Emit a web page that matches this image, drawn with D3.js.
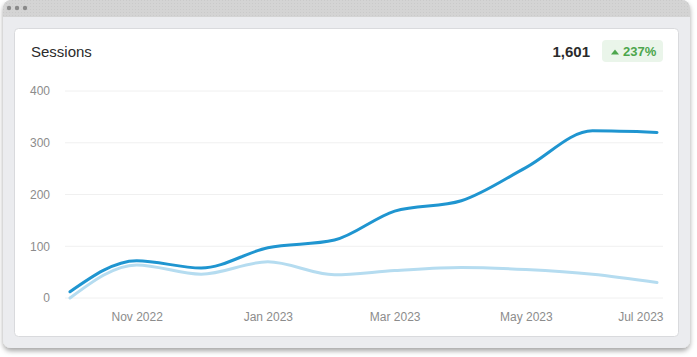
<!DOCTYPE html>
<html><head><meta charset="utf-8">
<script src="https://cdn.jsdelivr.net/npm/d3@7"></script>
<style>
html,body{margin:0;padding:0;background:#fff;}
svg{display:block;font-family:"Liberation Sans",Arial,Helvetica,sans-serif;}
</style></head>
<body>
<svg id="c" width="697" height="357"></svg>
<script>
const months = ["2022-10-01","2022-11-01","2022-12-01","2023-01-01","2023-02-01","2023-03-01","2023-04-01","2023-05-01","2023-06-01","2023-07-01"];
const currentSessions = [12, 72, 58, 97, 112, 168, 188, 252, 323, 320];
const previousSessions = [0, 64, 46, 70, 45, 53, 59, 55, 46, 30];
const yTicks = [0, 100, 200, 300, 400];
const xTickDates = ["2022-11-01","2023-01-01","2023-03-01","2023-05-01","2023-07-01"];
const title = "Sessions";
const total = "1,601";
const change = "237%";

const parse = d3.timeParse("%Y-%m-%d");
const dates = months.map(parse);
const svg = d3.select("#c");

// drop shadow
const defs = svg.append("defs");
const f = defs.append("filter").attr("id","sh").attr("x","-5%").attr("y","-5%").attr("width","110%").attr("height","115%");
f.append("feDropShadow").attr("dx",0).attr("dy",3).attr("stdDeviation",2.5).attr("flood-color","#000").attr("flood-opacity",0.35);
const pat = defs.append("pattern").attr("id","dots").attr("width",3).attr("height",3).attr("patternUnits","userSpaceOnUse");
pat.append("rect").attr("width",3).attr("height",3).attr("fill","#d4d4d4");
pat.append("rect").attr("width",1).attr("height",1).attr("fill","#cacaca");

// window
svg.append("rect").attr("x",3).attr("y",0).attr("width",687).attr("height",348).attr("rx",8).attr("fill","#ebecef").attr("filter","url(#sh)");
const clipT = defs.append("clipPath").attr("id","tb");
clipT.append("rect").attr("x",3).attr("y",0).attr("width",687).attr("height",17);
svg.append("rect").attr("x",3).attr("y",0).attr("width",687).attr("height",30).attr("rx",8).attr("fill","url(#dots)").attr("clip-path","url(#tb)");
[9,17,25].forEach(x=>svg.append("circle").attr("cx",x).attr("cy",8).attr("r",2.2).attr("fill","#8a8a8a"));

// card
svg.append("rect").attr("x",14.5).attr("y",28.5).attr("width",664).attr("height",308).attr("rx",4).attr("fill","#fff").attr("stroke","#d9dadd");

svg.append("text").attr("x",31).attr("y",57).attr("font-size",15).attr("fill","#2b2b2b").text(title);
svg.append("text").attr("x",590).attr("y",57).attr("text-anchor","end").attr("font-size",15).attr("font-weight","bold").attr("fill","#2b2b2b").text(total);
svg.append("rect").attr("x",602).attr("y",40).attr("width",61).attr("height",22).attr("rx",4).attr("fill","#eaf5ea");
svg.append("path").attr("d","M611,54.5 L615,49.5 L619,54.5 Z").attr("fill","#4ca64c");
svg.append("text").attr("x",623).attr("y",56).attr("font-size",13).attr("font-weight","bold").attr("fill","#4ca64c").text(change);

// scales
const x = d3.scaleTime().domain(d3.extent(dates)).range([70, 657]);
const y = d3.scaleLinear().domain([0, 400]).range([298, 91]);
const gridL = 65, gridR = 663;

const g = svg.append("g");
g.selectAll("line.grid").data(yTicks).join("line")
  .attr("x1",gridL).attr("x2",gridR).attr("y1",d=>y(d)).attr("y2",d=>y(d))
  .attr("stroke","#f0f0f0").attr("stroke-width",1);

const yAxis = d3.axisLeft(y).tickValues(yTicks).tickSize(0).tickPadding(0);
const ya = svg.append("g").attr("transform","translate(50,0)").call(yAxis);
ya.select(".domain").remove();
ya.selectAll("text").attr("font-size",12).attr("fill","#8c8c8c").attr("font-family","Liberation Sans, Arial, sans-serif");

const xAxis = d3.axisBottom(x).tickValues(xTickDates.map(parse)).tickFormat(d3.timeFormat("%b %Y")).tickSize(0).tickPadding(0);
const xa = svg.append("g").attr("transform","translate(0,312)").call(xAxis);
xa.select(".domain").remove();
xa.selectAll("text").attr("font-size",12).attr("fill","#8c8c8c").attr("font-family","Liberation Sans, Arial, sans-serif")
  .attr("dy","0.71em");
xa.selectAll(".tick").filter((d,i,n)=>i===n.length-1).select("text").attr("text-anchor","end").attr("x",gridR - x(parse(xTickDates[xTickDates.length-1])));

const line = d3.line().x((d,i)=>x(dates[i])).y(d=>y(d)).curve(d3.curveMonotoneX);
svg.append("path").attr("d",line(previousSessions)).attr("fill","none").attr("stroke","#b5dcf0").attr("stroke-width",3).attr("stroke-linecap","round");
svg.append("path").attr("d",line(currentSessions)).attr("fill","none").attr("stroke","#1f95d0").attr("stroke-width",3).attr("stroke-linecap","round");
</script>
</body></html>
